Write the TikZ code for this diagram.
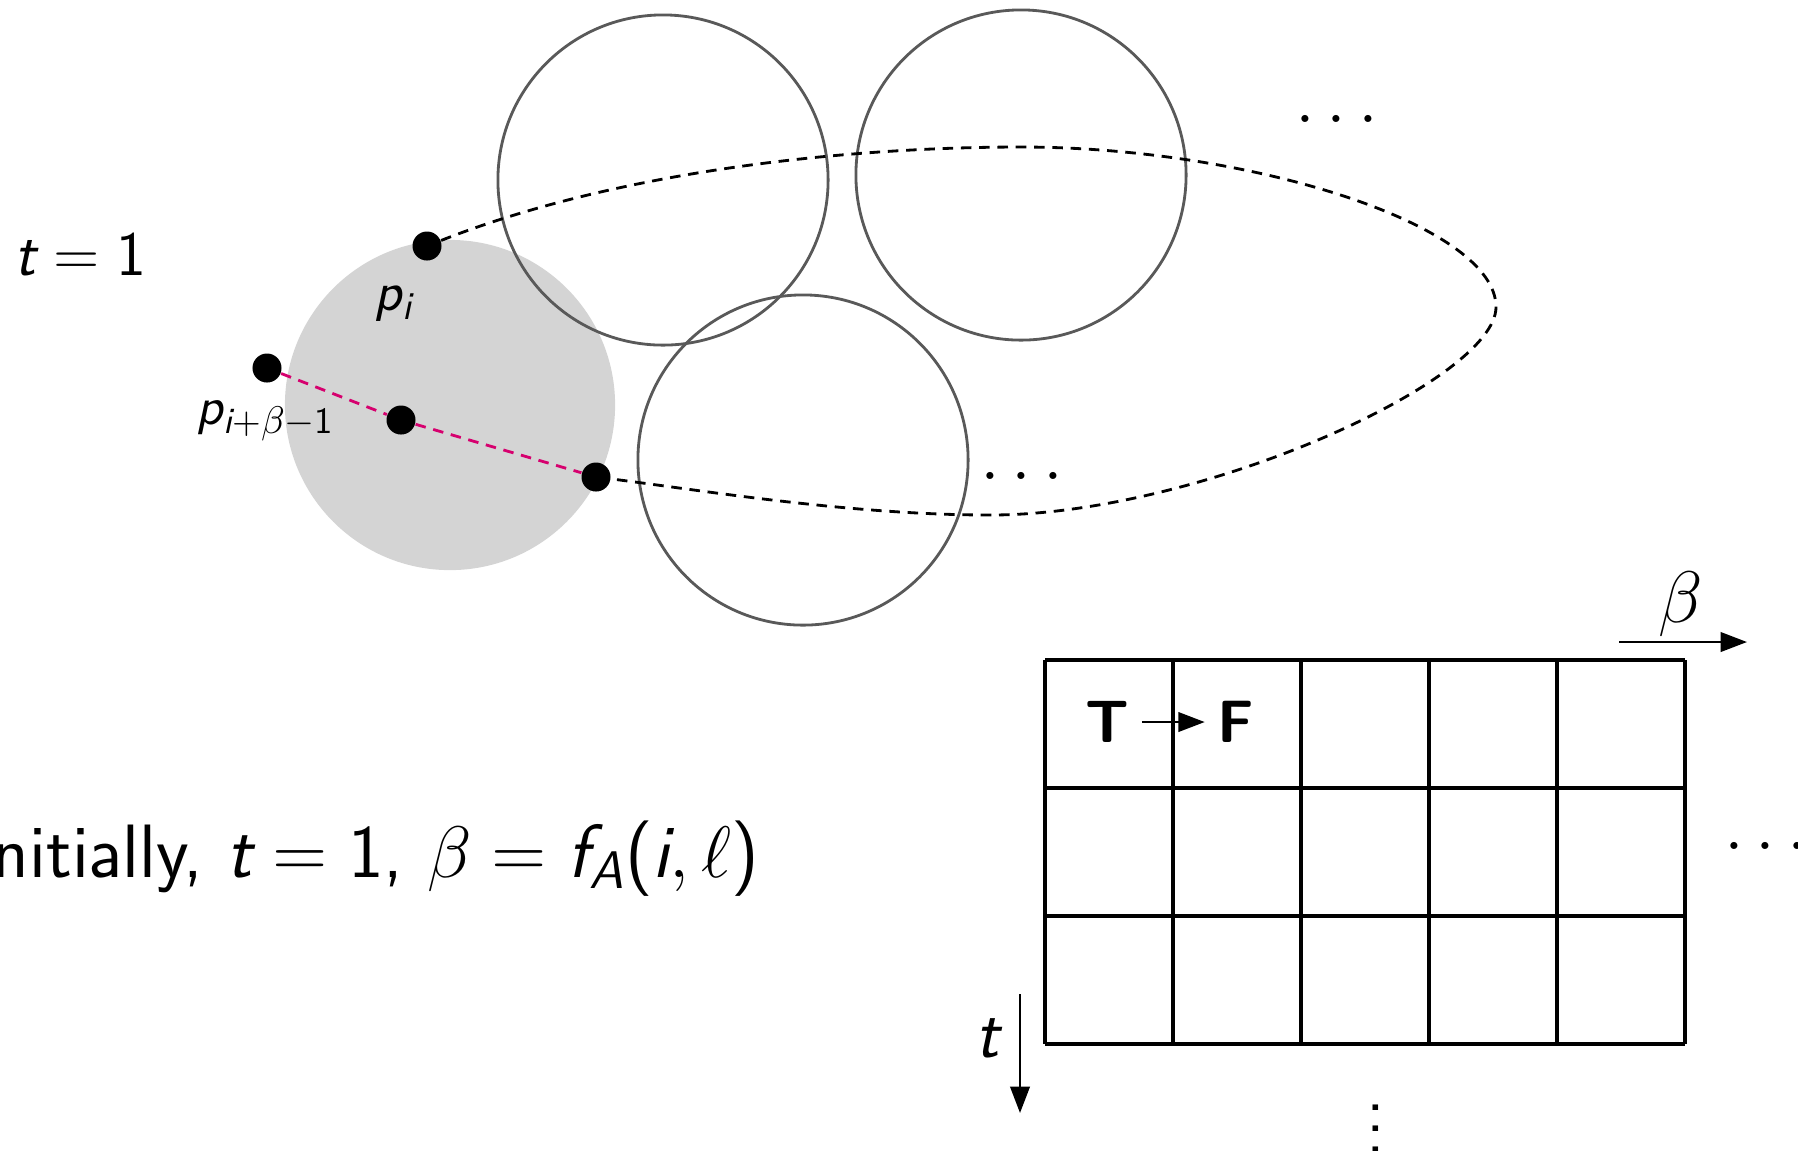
\documentclass[tikz,border=0pt]{standalone}
\usepackage{amsmath,amssymb}
\usepackage{xcolor}
\usetikzlibrary{arrows.meta}
\renewcommand{\familydefault}{\sfdefault}
\SetSymbolFont{operators}{normal}{TU}{lmss}{m}{n}
\DeclareSymbolFont{sfletters}{TU}{lmss}{m}{sl}
\DeclareMathSymbol{t}{\mathalpha}{sfletters}{`t}
\DeclareMathSymbol{p}{\mathalpha}{sfletters}{`p}
\DeclareMathSymbol{i}{\mathalpha}{sfletters}{`i}
\DeclareMathSymbol{f}{\mathalpha}{sfletters}{`f}
\DeclareMathSymbol{A}{\mathalpha}{sfletters}{`A}
\definecolor{rasp}{RGB}{214,0,110}

\begin{document}
\begin{tikzpicture}[
    x=0.01cm,y=-0.01cm,
    ring/.style={draw=black!65,line width=0.8pt,circle,
      minimum size=3.3cm,inner sep=0pt},
    blob/.style={fill=black!17,circle,minimum size=3.3cm,inner sep=0pt},
    pt/.style={fill=black,circle,minimum size=0.29cm,inner sep=0pt},
    lbl/.style={inner sep=0pt,font=\fontsize{16}{18}\selectfont},
    big/.style={inner sep=0pt,font=\fontsize{20}{23}\selectfont},
    trail/.style={line width=0.8pt,dash pattern=on 3pt off 2.2pt},
    arr/.style={-{Triangle[length=7.5pt,width=5.5pt]},line width=0.8pt},
    cell/.style={line width=0.9pt}
]
\useasboundingbox (0,0) rectangle (1798,1150);

\node[blob] (zone) at (450,405) {};
\node[ring] (cA) at (663,180) {};
\node[ring] (cB) at (1021,175) {};
\node[ring] (cC) at (803,460) {};

\node[pt] (pi) at (427,246) {};
\node[pt] (pb) at (267,368) {};
\node[pt] (pm) at (401,420) {};
\node[pt] (pr) at (596,477) {};

\coordinate (top) at (1021,147);
\coordinate (far) at (1496,307);
\coordinate (bot) at (990,515);

\draw[trail] (pi) .. controls (620,170) and (850,147) .. (top)
  .. controls (1250,147) and (1496,225) .. (far)
  .. controls (1496,380) and (1200,515) .. (bot)
  .. controls (850,515) and (700,490) .. (pr);
\draw[trail,rasp] (pb) -- (pm) -- (pr);

\node[lbl] (lpi) at (394,304) {$p_i$};
\node[lbl,font=\fontsize{15}{17}\selectfont] (lpb) at (266,421) {$p_{i+\beta-1}$};

\node[big,anchor=base west,font=\fontsize{18}{21}\selectfont] (tone) at (14,275) {$t=1$};
\node[big,anchor=base east,font=\fontsize{21.5}{25}\selectfont] (init) at (760,877)
      {Initially, $t=1$, $\beta=f_A(i,\ell)$};

\node[big,anchor=base] (dA) at (1337,122) {$\ldots$};
\node[big,anchor=base] (dB) at (1022,479) {$\ldots$};
\node[big,anchor=base] (dC) at (1766,849) {$\ldots$};
\node[big,scale=1.5,font=\fontsize{13}{15}\selectfont] (dD) at (1376,1113) {$\vdots$};

\foreach \c in {0,...,5}
  \draw[cell] (1045+\c*128,660) -- (1045+\c*128,1044);
\foreach \r in {0,...,3}
  \draw[cell] (1045,660+\r*128) -- (1685,660+\r*128);

\node[big,font=\fontsize{17}{20}\selectfont\bfseries,inner sep=3.5pt] (vT) at (1107,722) {T};
\node[big,font=\fontsize{17}{20}\selectfont\bfseries,inner sep=3.5pt] (vF) at (1236,722) {F};
\draw[arr] (vT) -- (vF);

\coordinate (bs) at (1619,642);
\coordinate (be) at (1747,642);
\draw[arr] (bs) -- (be);
\node[big] (lbeta) at (1681,604) {$\beta$};

\coordinate (ts) at (1020,994);
\coordinate (te) at (1020,1113);
\draw[arr] (ts) -- (te);
\node[big] (lt) at (987,1038) {$t$};
\end{tikzpicture}
\end{document}
